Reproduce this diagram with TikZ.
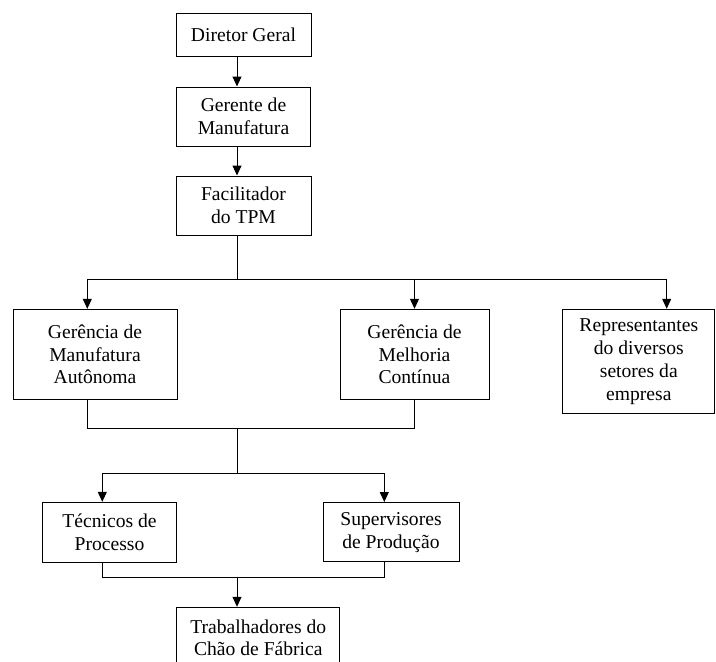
\documentclass[tikz,border=0pt]{standalone}
\usepackage{fontspec}
\setmainfont{Liberation Serif}
\usetikzlibrary{arrows.meta}
\begin{document}
\begin{tikzpicture}[x=1pt,y=-1pt,
  box/.style={draw, line width=1pt, inner sep=0pt, align=center,
    font=\fontsize{19.6}{22.8}\selectfont},
  link/.style={line width=1pt},
  arr/.style={link, -{Triangle[length=10pt,width=9pt]}}]
\useasboundingbox (0,0) rectangle (716,662);
\clip (0,0) rectangle (716,662);

% boxes
\node[box, minimum width=135pt, minimum height=43pt] (dg) at (243.5,34.5) {Diretor Geral};
\node[box, minimum width=134pt, minimum height=59pt] (gm) at (243.5,116.5) {Gerente de\\Manufatura};
\node[box, minimum width=135pt, minimum height=59pt] (ft) at (243.5,205.5) {Facilitador\\do TPM};
\node[box, minimum width=164pt, minimum height=90pt] (ma) at (95,354.3) {Gerência de\\Manufatura\\Autônoma};
\node[box, minimum width=149pt, minimum height=90pt] (mc) at (414.5,354.3) {Gerência de\\Melhoria\\Contínua};
\node[box, minimum width=152pt, minimum height=104.7pt] (rp) at (638.8,361.6) {Representantes\\do diversos\\setores da\\empresa};
\node[box, minimum width=134.4pt, minimum height=60.4pt] (tp) at (109.5,532.5) {Técnicos de\\Processo};
\node[box, minimum width=136pt, minimum height=59.4pt] (sp) at (391,532.2) {Supervisores\\de Produção};
\node[box, minimum width=163.3pt, minimum height=61pt] (tr) at (258.3,637.8) {Trabalhadores do\\Chão de Fábrica};

% junction points of the connectors
\coordinate (tk) at (237,0);
\coordinate (b1) at (237,279);
\coordinate (b1l) at (87.3,279);
\coordinate (b1r) at (666.7,279);
\coordinate (b2) at (237,428.3);
\coordinate (b3) at (237,473.3);
\coordinate (b3l) at (102.3,473.3);
\coordinate (b3r) at (384.3,473.3);
\coordinate (b4) at (237,577.3);

% top chain
\draw[arr] (dg.south -| tk) -- (gm.north -| tk);
\draw[arr] (gm.south -| tk) -- (ft.north -| tk);
\draw[link] (ft.south -| tk) -- (b1);
\draw[link] (b1l) -- (b1r);
\draw[arr] (b1l) -- (ma.north -| b1l);
\draw[arr] (b1l -| mc) -- (mc.north);
\draw[arr] (b1r) -- (rp.north -| b1r);

% merge of the two managements
\draw[link] (ma.south -| b1l) |- (b2 -| mc) -- (mc.south);
\draw[link] (b2) -- (b3);
\draw[link] (b3l) -- (b3r);
\draw[arr] (b3l) -- (tp.north -| b3l);
\draw[arr] (b3r) -- (sp.north -| b3r);

% merge to the shop floor
\draw[link] (tp.south -| b3l) |- (b4 -| b3r) -- (sp.south -| b3r);
\draw[arr] (b4) -- (tr.north -| b4);
\end{tikzpicture}
\end{document}
